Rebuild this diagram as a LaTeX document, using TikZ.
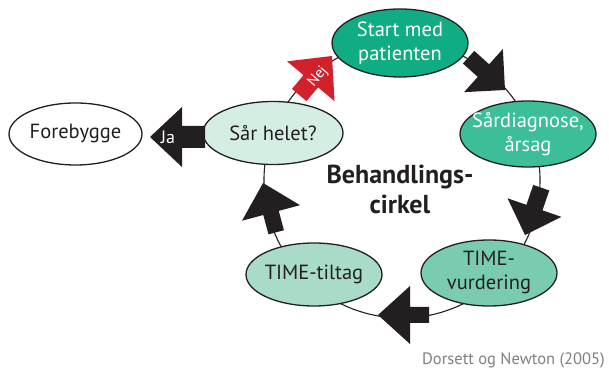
\documentclass[tikz,border=0pt]{standalone}
\usepackage{fontspec}
\setmainfont{PT Sans}
\usetikzlibrary{shapes.geometric}
\definecolor{ink}{HTML}{231F20}
\definecolor{cstart}{HTML}{10AC84}
\definecolor{csard}{HTML}{3CBF98}
\definecolor{ctv}{HTML}{7ACCB0}
\definecolor{ctt}{HTML}{A8DCC9}
\definecolor{csh}{HTML}{D5EEE4}
\definecolor{cnej}{HTML}{D2212B}
\definecolor{csrc}{HTML}{808080}
\tikzset{
  ell/.style={ellipse, draw=ink, line width=1.3pt, inner sep=0pt},
  lbl/.style={align=center, font=\fontsize{20.5}{24}\selectfont},
  ring/.style={draw=ink, line width=1.1pt},
  pics/blockarrow/.style n args={4}{code={
    \fill (0,0) -- (-#1,#2/2) -- (-#1,#3/2) -- (-#1-#4,#3/2) -- (-#1-#4,-#3/2)
      -- (-#1,-#3/2) -- (-#1,-#2/2) -- cycle;
  }}
}
\begin{document}
\begin{tikzpicture}[x=1pt,y=1pt]
\useasboundingbox (0,0) rectangle (609,371);
% ring
\coordinate (c) at (402,191);
\draw[ring] (c) circle[radius=138];
% nodes
\node[ell, fill=cstart, minimum width=136pt, minimum height=68pt,
  label={[lbl,white]center:Start med\\patienten}] (start) at (400,328) {};
\node[ell, fill=csard, minimum width=136pt, minimum height=66pt,
  label={[lbl,white]center:Sårdiagnose,\\årsag}] (sard) at (528,237) {};
\node[ell, fill=ctv, minimum width=136pt, minimum height=66pt,
  label={[lbl,ink]center:TIME-\\vurdering}] (tv) at (489,98) {};
\node[ell, fill=ctt, minimum width=136pt, minimum height=63pt,
  label={[lbl,ink]center:TIME-tiltag}] (tt) at (314,96.5) {};
\node[ell, fill=csh, minimum width=140pt, minimum height=63pt,
  label={[lbl,ink]center:Sår helet?}] (sh) at (273,238) {};
\node[ell, fill=white, minimum width=133pt, minimum height=62pt,
  label={[lbl,ink]center:Forebygge}] (fb) at (75.5,237) {};
% block arrows along the ring
\pic[fill=ink, rotate=-42] at (505,281) {blockarrow={29}{58}{17}{20}};
\pic[fill=ink, rotate=-109] at (525,136) {blockarrow={29}{57}{17}{21}};
\pic[fill=ink, rotate=180] at (378,56) {blockarrow={32}{58}{16}{19}};
\pic[fill=ink, rotate=105] at (263,188) {blockarrow={31}{60}{16}{20}};
\pic[fill=cnej, rotate=50] at (332,315) {blockarrow={33}{62}{19}{18}};
\pic[fill=ink, rotate=180] at (150,234) {blockarrow={32}{60}{22}{23}};
\node[white, rotate=50, font=\fontsize{15}{15}\selectfont, inner sep=0pt] (nej) at (318,294) {Nej};
\node[white, font=\fontsize{18}{18}\selectfont, inner sep=0pt] (ja) at (168,234) {Ja};
% title
\node[align=center, text=ink, font=\bfseries\fontsize{26}{30}\selectfont] (title) at (400,182) {Behandlings-\\cirkel};
% source
\node[anchor=south east, text=csrc, font=\fontsize{16.5}{16.5}\selectfont, inner sep=0pt] (src) at (605,3) {Dorsett og Newton (2005)};
\end{tikzpicture}
\end{document}
